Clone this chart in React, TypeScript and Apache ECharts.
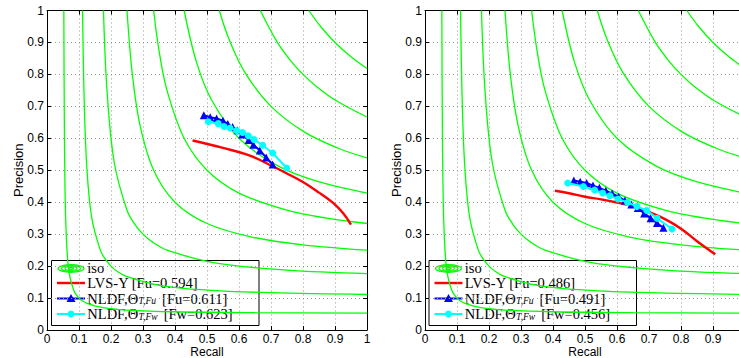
import React, { useEffect, useRef } from 'react';
import * as echarts from 'echarts';

// Iso-F contour lines, [recall, precision] points
const ISO_10 = [[0.0526, 1.0], [0.0542, 0.65], [0.0571, 0.4], [0.0625, 0.25], [0.07, 0.175], [0.0833, 0.125], [0.0917, 0.11], [0.1, 0.1], [0.11, 0.0917], [0.125, 0.0833], [0.175, 0.07], [0.25, 0.0625], [0.4, 0.0571], [0.65, 0.0542], [1.0, 0.0526]];
const ISO_20 = [[0.1111, 1.0], [0.1167, 0.7], [0.125, 0.5], [0.14, 0.35], [0.1667, 0.25], [0.1833, 0.22], [0.2, 0.2], [0.22, 0.1833], [0.25, 0.1667], [0.35, 0.14], [0.5, 0.125], [0.7, 0.1167], [1.0, 0.1111]];
const ISO_30 = [[0.1765, 1.0], [0.1875, 0.75], [0.21, 0.525], [0.25, 0.375], [0.275, 0.33], [0.3, 0.3], [0.33, 0.275], [0.375, 0.25], [0.525, 0.21], [0.75, 0.1875], [1.0, 0.1765]];
const ISO_40 = [[0.25, 1.0], [0.2667, 0.8], [0.2909, 0.64], [0.3333, 0.5], [0.4, 0.4], [0.5, 0.3333], [0.64, 0.2909], [0.8, 0.2667], [1.0, 0.25]];
const ISO_50 = [[0.3333, 1.0], [0.35, 0.875], [0.375, 0.75], [0.4286, 0.6], [0.5, 0.5], [0.6, 0.4286], [0.75, 0.375], [0.875, 0.35], [1.0, 0.3333]];
const ISO_60 = [[0.4286, 1.0], [0.4667, 0.84], [0.5143, 0.72], [0.6, 0.6], [0.72, 0.5143], [0.84, 0.4667], [1.0, 0.4286]];
const ISO_70 = [[0.5385, 1.0], [0.5688, 0.91], [0.6192, 0.805], [0.7, 0.7], [0.805, 0.6192], [0.91, 0.5688], [1.0, 0.5385]];
const ISO_80 = [[0.6667, 1.0], [0.72, 0.9], [0.7636, 0.84], [0.8, 0.8], [0.84, 0.7636], [0.9, 0.72], [1.0, 0.6667]];
const ISO_90 = [[0.8182, 1.0], [0.855, 0.95], [0.9, 0.9], [0.95, 0.855], [1.0, 0.8182]];
const ISO_CURVES = [ISO_10, ISO_20, ISO_30, ISO_40, ISO_50, ISO_60, ISO_70, ISO_80, ISO_90];

// Left panel
const LEFT_LVS = [[0.455, 0.593], [0.55, 0.57], [0.634, 0.546], [0.7, 0.515], [0.75, 0.49], [0.8, 0.463], [0.85, 0.43], [0.895, 0.397], [0.925, 0.366], [0.95, 0.33]];
const LEFT_FU = [[0.49, 0.672], [0.51, 0.666], [0.53, 0.662], [0.55, 0.655], [0.565, 0.645], [0.58, 0.635], [0.595, 0.625], [0.61, 0.612], [0.63, 0.595], [0.645, 0.58], [0.665, 0.562], [0.685, 0.54], [0.705, 0.518]];
const LEFT_FW = [[0.504, 0.652], [0.535, 0.646], [0.553, 0.637], [0.572, 0.632], [0.593, 0.624], [0.611, 0.618], [0.629, 0.608], [0.647, 0.596], [0.674, 0.578], [0.705, 0.554], [0.749, 0.507]];
const LEFT_LABELS = ['[Fu=0.594]', '[Fu=0.611]', '[Fw=0.623]'];

// Right panel
const RIGHT_LVS = [[0.406, 0.436], [0.45, 0.428], [0.5, 0.417], [0.55, 0.409], [0.6, 0.399], [0.65, 0.387], [0.7, 0.369], [0.75, 0.347], [0.8, 0.317], [0.85, 0.278], [0.907, 0.237]];
const RIGHT_FU = [[0.465, 0.468], [0.485, 0.464], [0.505, 0.46], [0.525, 0.452], [0.545, 0.445], [0.565, 0.436], [0.585, 0.427], [0.605, 0.417], [0.625, 0.405], [0.645, 0.393], [0.665, 0.382], [0.685, 0.365], [0.705, 0.35], [0.725, 0.335], [0.745, 0.32]];
const RIGHT_FW = [[0.446, 0.46], [0.495, 0.449], [0.53, 0.438], [0.555, 0.429], [0.578, 0.42], [0.603, 0.41], [0.633, 0.399], [0.662, 0.387], [0.693, 0.374], [0.725, 0.35], [0.772, 0.316]];
const RIGHT_LABELS = ['[Fu=0.486]', '[Fu=0.491]', '[Fw=0.456]'];

const GREEN = '#00ff00';
const RED = '#ff0000';
const BLUE = '#0000ff';
const CYAN = '#00ffff';
const SANS = 'Liberation Sans, Arial, sans-serif';
const SERIF = 'Liberation Serif, Times New Roman, serif';

let measureCtx: CanvasRenderingContext2D | null = null;
function textWidth(text: string, font: string) {
  if (!measureCtx) measureCtx = document.createElement('canvas').getContext('2d');
  if (!measureCtx) return text.length * 7;
  measureCtx.font = font;
  return measureCtx.measureText(text).width;
}

function xAxis(gridIndex: number, top: boolean, showMax: boolean) {
  return {
    type: 'value', gridIndex, min: 0, max: 1, interval: 0.1,
    position: top ? 'top' : 'bottom',
    name: top ? '' : 'Recall', nameLocation: 'middle', nameGap: 15.5, nameMoveOverlap: false,
    nameTextStyle: { fontFamily: SANS, fontSize: 12, color: '#000', lineHeight: 12, verticalAlign: 'top' },
    axisLine: { show: true, onZero: false, lineStyle: { color: '#000', width: 1 } },
    axisTick: { show: true, inside: true, length: 4, lineStyle: { color: '#000' } },
    axisLabel: { show: !top, margin: 2.5, lineHeight: 12, showMaxLabel: showMax, fontFamily: SANS, fontSize: 12, color: '#000', hideOverlap: false, formatter: (v: number) => String(Math.round(v * 10) / 10) },
    splitLine: { show: !top, lineStyle: { color: '#999', type: [1, 3], width: 1 } },
  };
}

function yAxis(gridIndex: number, right: boolean) {
  return {
    type: 'value', gridIndex, min: 0, max: 1, interval: 0.1,
    position: right ? 'right' : 'left',
    name: right ? '' : 'Precision', nameLocation: 'middle', nameGap: 22, nameMoveOverlap: false,
    nameTextStyle: { fontFamily: SANS, fontSize: 13, color: '#000' },
    axisLine: { show: true, onZero: false, lineStyle: { color: '#000', width: 1 } },
    axisTick: { show: true, inside: true, length: 4, lineStyle: { color: '#000' } },
    axisLabel: { show: !right, margin: 3, fontFamily: SANS, fontSize: 12, color: '#000', formatter: (v: number) => String(Math.round(v * 10) / 10) },
    splitLine: { show: !right, lineStyle: { color: '#999', type: [1, 3], width: 1 } },
  };
}

function panelSeries(ai: number, lvs: number[][], fu: number[][], fw: number[][]) {
  const iso = ISO_CURVES.map((c) => ({
    type: 'line', xAxisIndex: ai, yAxisIndex: ai, data: c, showSymbol: false, symbol: 'none',
    smooth: 0.35, lineStyle: { color: GREEN, width: 1.3 }, z: 1, silent: true,
  }));
  return [
    ...iso,
    { type: 'line', xAxisIndex: ai, yAxisIndex: ai, data: lvs, symbol: 'none', smooth: 0.4, lineStyle: { color: RED, width: 2.4 }, z: 2 },
    { type: 'line', xAxisIndex: ai, yAxisIndex: ai, data: fu, symbol: 'triangle', symbolSize: 8, itemStyle: { color: BLUE }, lineStyle: { color: BLUE, width: 2 }, z: 3 },
    { type: 'line', xAxisIndex: ai, yAxisIndex: ai, data: fw, symbol: 'circle', symbolSize: 7, itemStyle: { color: CYAN }, lineStyle: { color: CYAN, width: 2 }, z: 4 },
  ];
}

function legend(x0: number, labels: string[]) {
  const bx = x0, by = 260.5, bw = 207.5, bh = 65;
  const ix1 = bx + 5.5, ix2 = bx + 33.5, icx = (ix1 + ix2) / 2, tx = bx + 35.8;
  const rows = [268, 283, 298.5, 314];
  const FS = 14.5;
  const base = { fontFamily: SERIF, fontSize: FS, fill: '#000', verticalAlign: 'middle', align: 'left' };
  const sub = { fontFamily: SERIF, fontSize: 9.5, fontStyle: 'italic', fill: '#000', verticalAlign: 'middle', align: 'left' };
  const head = 'NLDF,Θ';
  const w1 = textWidth(head, `${FS}px ${SERIF}`);
  const subs = ['T,Fu', 'T,Fw'];
  const nldf = (row: number, s: string, label: string) => {
    const ws = textWidth(s, `italic 9.5px ${SERIF}`);
    return [
      { type: 'text', x: tx, y: row, style: { ...base, text: head } },
      { type: 'text', x: tx + w1 + 0.5, y: row + 2.5, style: { ...sub, text: s } },
      { type: 'text', x: tx + w1 + 0.5 + ws + 6, y: row, style: { ...base, text: label } },
    ];
  };
  return {
    type: 'group', z: 100,
    children: [
      { type: 'rect', shape: { x: bx, y: by, width: bw, height: bh }, style: { fill: '#fff', stroke: '#000', lineWidth: 1 } },
      ...[[13, 3.8], [9.5, 2.8], [6, 1.8], [2.5, 0.8]].map(([rx, ry]) => ({
        type: 'ellipse', shape: { cx: icx, cy: rows[0] + 0.5, rx, ry }, style: { fill: 'none', stroke: GREEN, lineWidth: 1.2 },
      })),
      { type: 'text', x: tx, y: rows[0], style: { ...base, text: 'iso' } },
      { type: 'line', shape: { x1: ix1, y1: rows[1], x2: ix2, y2: rows[1] }, style: { stroke: RED, lineWidth: 2.4 } },
      { type: 'text', x: tx, y: rows[1], style: { ...base, text: 'LVS-Y ' + labels[0] } },
      { type: 'line', shape: { x1: ix1, y1: rows[2], x2: ix2, y2: rows[2] }, style: { stroke: BLUE, lineWidth: 2 } },
      { type: 'polygon', shape: { points: [[icx, rows[2] - 4.5], [icx - 4.5, rows[2] + 3.5], [icx + 4.5, rows[2] + 3.5]] }, style: { fill: BLUE } },
      ...nldf(rows[2], subs[0], labels[1]),
      { type: 'line', shape: { x1: ix1, y1: rows[3], x2: ix2, y2: rows[3] }, style: { stroke: CYAN, lineWidth: 2 } },
      { type: 'circle', shape: { cx: icx, cy: rows[3], r: 3.5 }, style: { fill: CYAN } },
      ...nldf(rows[3], subs[1], labels[2]),
    ],
  };
}

export default function App() {
  const ref = useRef<HTMLDivElement>(null);
  useEffect(() => {
    if (!ref.current) return;
    const chart = echarts.init(ref.current, undefined, { renderer: 'svg' });
    chart.setOption({
      animation: false,
      backgroundColor: '#fff',
      grid: [
        { left: 47, top: 10.5, width: 320, height: 319.5, outerBoundsMode: 'none', containLabel: false },
        { left: 425, top: 10.5, width: 320, height: 319.5, outerBoundsMode: 'none', containLabel: false },
      ],
      xAxis: [xAxis(0, false, true), xAxis(1, false, false), xAxis(0, true, true), xAxis(1, true, true)],
      yAxis: [yAxis(0, false), yAxis(1, false), yAxis(0, true), yAxis(1, true)],
      series: [
        ...panelSeries(0, LEFT_LVS, LEFT_FU, LEFT_FW),
        ...panelSeries(1, RIGHT_LVS, RIGHT_FU, RIGHT_FW),
      ],
      graphic: [legend(51.5, LEFT_LABELS), legend(429, RIGHT_LABELS)],
    });
    return () => chart.dispose();
  }, []);
  return <div ref={ref} style={{ position: 'absolute', left: 0, top: 0, width: 739, height: 358 }} />;
}
